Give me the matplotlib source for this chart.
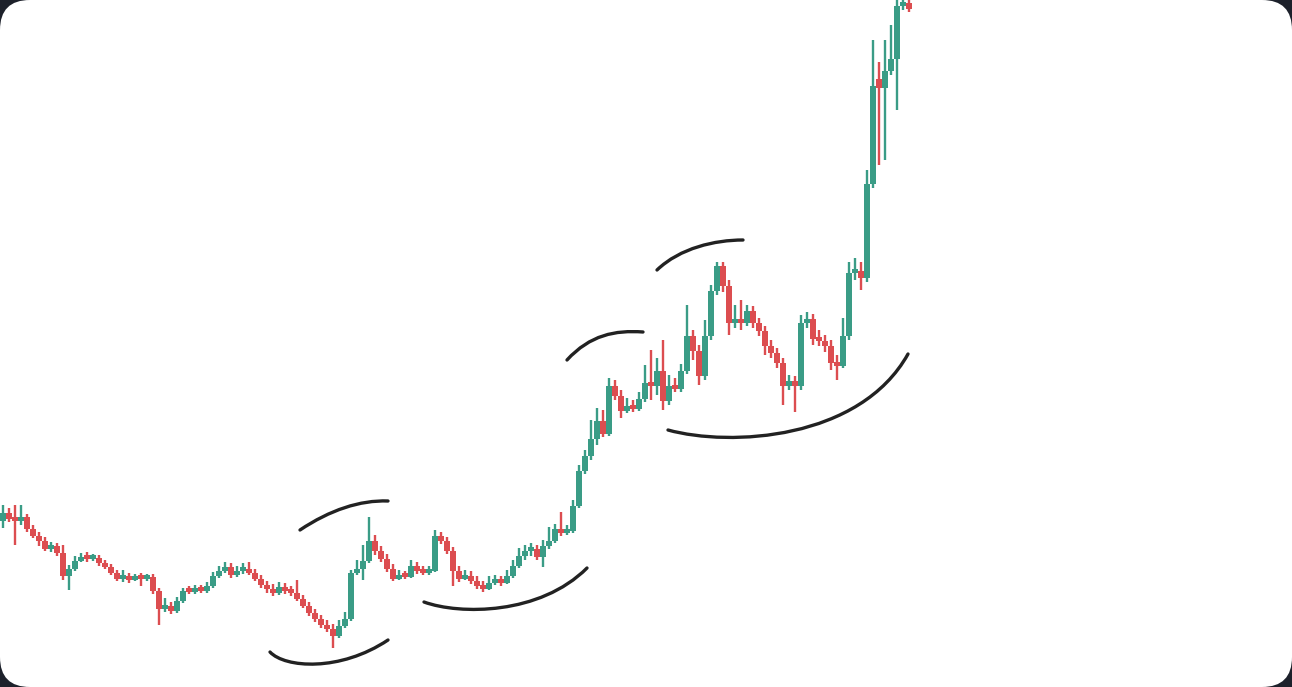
import numpy as np
import matplotlib.pyplot as plt
from matplotlib.patches import FancyBboxPatch, PathPatch
from matplotlib.path import Path

# OHLC values (arbitrary price units)
opens = [167, 175, 169, 167, 171, 159, 152, 147, 139, 142,
         135, 112, 119, 127, 131, 129, 130, 125, 121, 115,
         109, 112, 108, 111, 109, 111, 97, 79, 82, 77,
         87, 97, 96, 99, 97, 102, 112, 117, 121, 113,
         117, 119, 115, 109, 103, 99, 95, 101, 97, 95,
         89, 82, 75, 69, 63, 59, 52, 62, 69, 115,
         119, 127, 147, 137, 129, 119, 109, 113, 111, 122,
         117, 115, 117, 152, 147, 137, 117, 109, 112, 107,
         102, 99, 105, 107, 105, 112, 122, 132, 137, 139,
         131, 142, 147, 159, 155, 157, 182, 217, 232, 249,
         267, 254, 302, 292, 277, 282, 279, 289, 305, 302,
         317, 287, 302, 299, 317, 352, 337, 312, 352, 397,
         422, 402, 365, 369, 365, 377, 365, 357, 342, 335,
         325, 302, 307, 302, 365, 369, 349, 347, 342, 325,
         322, 352, 415, 417, 410, 504, 609, 600, 617, 629,
         682, 685]
closes = [175, 169, 167, 171, 159, 152, 147, 139, 142, 135,
          112, 119, 127, 131, 129, 130, 125, 121, 115, 109,
          112, 108, 111, 109, 111, 97, 79, 82, 77, 87,
          97, 96, 99, 97, 102, 112, 117, 121, 113, 117,
          119, 115, 109, 103, 99, 95, 101, 97, 95, 89,
          82, 75, 69, 63, 59, 52, 62, 69, 115, 119,
          127, 147, 137, 129, 119, 109, 113, 111, 122, 117,
          115, 117, 152, 147, 137, 117, 109, 112, 107, 102,
          99, 105, 107, 105, 112, 122, 132, 137, 139, 131,
          142, 147, 159, 155, 157, 182, 217, 232, 249, 267,
          254, 302, 292, 277, 282, 279, 289, 305, 302, 317,
          287, 302, 299, 317, 352, 337, 312, 352, 397, 422,
          402, 365, 369, 365, 377, 365, 357, 342, 335, 325,
          302, 307, 302, 365, 369, 349, 347, 342, 325, 322,
          352, 415, 417, 410, 504, 602, 600, 617, 629, 682,
          685, 679]
highs = [182, 179, 182, 182, 173, 162, 155, 150, 145, 144,
         142, 122, 131, 134, 135, 133, 132, 127, 123, 117,
         117, 114, 113, 114, 113, 113, 99, 89, 85, 90,
         99, 101, 102, 102, 105, 115, 121, 125, 124, 121,
         124, 125, 118, 112, 106, 103, 105, 104, 101, 107,
         92, 85, 78, 72, 67, 63, 67, 75, 117, 127,
         142, 170, 152, 141, 133, 123, 117, 116, 127, 125,
         121, 121, 157, 155, 150, 140, 121, 117, 116, 111,
         106, 111, 112, 111, 117, 127, 139, 142, 144, 142,
         147, 160, 163, 175, 162, 187, 222, 237, 267, 279,
         277, 309, 307, 297, 289, 287, 295, 322, 337, 329,
         347, 312, 309, 323, 382, 357, 342, 367, 402, 425,
         425, 407, 382, 387, 382, 381, 369, 361, 347, 339,
         329, 312, 311, 372, 375, 373, 357, 352, 347, 332,
         369, 425, 429, 425, 517, 647, 625, 647, 662, 687,
         692, 692]
lows = [159, 165, 142, 162, 155, 149, 141, 136, 135, 131,
        107, 97, 116, 125, 125, 126, 121, 118, 112, 106,
        105, 104, 106, 101, 106, 93, 62, 75, 73, 74,
        84, 93, 93, 94, 94, 99, 109, 114, 109, 110,
        113, 112, 106, 99, 94, 91, 92, 93, 91, 86,
        79, 71, 65, 59, 55, 39, 49, 59, 66, 112,
        107, 124, 132, 125, 115, 106, 107, 108, 109, 113,
        112, 112, 115, 143, 133, 101, 105, 107, 103, 98,
        95, 97, 102, 101, 103, 109, 119, 127, 131, 127,
        120, 138, 144, 151, 152, 154, 179, 213, 227, 242,
        250, 251, 287, 269, 274, 275, 276, 285, 287, 292,
        277, 282, 295, 295, 313, 327, 302, 307, 347, 392,
        395, 352, 359, 357, 361, 359, 351, 332, 329, 319,
        282, 297, 275, 297, 359, 342, 341, 335, 317, 307,
        319, 347, 407, 397, 405, 499, 522, 527, 612, 577,
        677, 675]

up_color = '#3a9c86'
down_color = '#dc4d50'

fig = plt.figure(figsize=(12.92, 6.87), dpi=100)
fig.patch.set_facecolor('#1d212b')

# white rounded card, in pixel units (y down)
bg = fig.add_axes([0, 0, 1, 1])
bg.set_xlim(0, 1292)
bg.set_ylim(687, 0)
bg.axis('off')
bg.add_patch(FancyBboxPatch((0, 0), 1292, 687, boxstyle='round,pad=0,rounding_size=30',
                            fc='white', ec='none'))

# candlesticks
ax = fig.add_axes([0, 0, 1, 1], facecolor='none')
ax.axis('off')
n = len(closes)
x = np.arange(n)
o = np.array(opens)
c = np.array(closes)
colors = [up_color if cc >= oo else down_color for oo, cc in zip(o, c)]
ax.vlines(x, lows, highs, colors=colors, lw=1.7, zorder=2)
ax.bar(x, np.maximum(np.abs(c - o), 4), bottom=np.minimum(o, c) - 1, width=0.9,
       color=colors, zorder=3)
ax.set_xlim(-0.5, -0.5 + 1292 / 6)
ax.set_ylim(0, 687)

# hand-drawn arcs (pixel coordinates of the card)
arcs = [
    [(300, 530), (330, 510), (360, 500), (388, 501)],
    [(270, 652), (285, 668), (340, 672), (388, 640)],
    [(424, 602), (460, 615), (540, 615), (587, 568)],
    [(567, 360), (590, 335), (615, 330), (643, 332)],
    [(657, 270), (680, 248), (715, 240), (743, 240)],
    [(668, 430), (730, 447), (860, 440), (908, 354)],
]
for pts in arcs:
    path = Path(pts, [Path.MOVETO, Path.CURVE4, Path.CURVE4, Path.CURVE4])
    ax.add_patch(PathPatch(path, transform=bg.transData, fc='none', ec='#222222',
                           lw=2.4, capstyle='round', zorder=5))

fig.savefig('out.png', dpi=100, facecolor=fig.get_facecolor())
